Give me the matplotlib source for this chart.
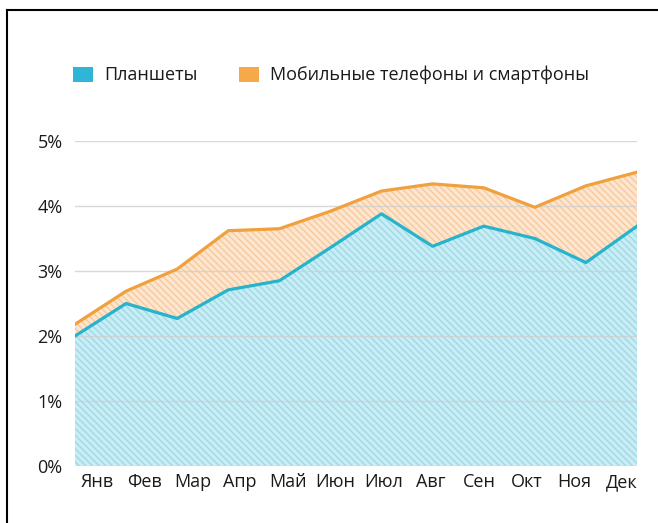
import numpy as np
import matplotlib
matplotlib.use("Agg")
import matplotlib.pyplot as plt
from matplotlib.patches import Patch
from matplotlib.lines import Line2D

# data (percent)
months = ["Янв", "Фев", "Мар", "Апр", "Май", "Июн", "Июл", "Авг", "Сен", "Окт", "Ноя", "Дек"]
tablets = [2.00, 2.50, 2.27, 2.71, 2.85, 3.36, 3.88, 3.38, 3.69, 3.50, 3.13, 3.69]
phones = [0.18, 0.19, 0.76, 0.91, 0.80, 0.56, 0.35, 0.96, 0.59, 0.48, 1.18, 0.83]
y_ticks = [0, 1, 2, 3, 4, 5]
y_labels = ["0%", "1%", "2%", "3%", "4%", "5%"]
legend_labels = ["Планшеты", "Мобильные телефоны и смартфоны"]

BLUE_LINE = "#27b3cb"
BLUE_FILL = "#c9edf5"
BLUE_HATCH = "#9fd8e6"
ORANGE_LINE = "#f0a03c"
ORANGE_FILL = "#fde6d0"
ORANGE_HATCH = "#f7c99c"

plt.rcParams["font.family"] = ["Open Sans", "DejaVu Sans"]
plt.rcParams["hatch.linewidth"] = 1.0

W, H = 658, 523
fig = plt.figure(figsize=(W / 100, H / 100), dpi=100)
ax = fig.add_axes([75 / W, (H - 466) / H, (637 - 75) / W, (466 - 141) / H])

x = np.arange(len(months))
t = np.array(tablets)
top = t + np.array(phones)

ax.fill_between(x, 0, t, facecolor=BLUE_FILL, edgecolor=BLUE_HATCH, hatch="\\\\\\\\\\", linewidth=0, zorder=1)
ax.fill_between(x, t, top, facecolor=ORANGE_FILL, edgecolor=ORANGE_HATCH, hatch="\\\\\\\\\\", linewidth=0, zorder=1)

for yv in y_ticks:
    ax.axhline(yv, color="#cfcfcf", linewidth=1.0, alpha=0.8, zorder=2)

ax.plot(x, top, color=ORANGE_LINE, linewidth=2.3, zorder=3, solid_joinstyle="round")
ax.plot(x, t, color=BLUE_LINE, linewidth=2.3, zorder=4, solid_joinstyle="round")

ax.set_xlim(0, 11)
ax.set_ylim(0, 5)
ax.set_yticks(y_ticks)
ax.set_yticklabels(y_labels)
ax.set_xticks(np.linspace(0.43, 10.71, 12))
ax.set_xticklabels(months)
ax.tick_params(length=0, labelsize=13, colors="#1a1a1a")
ax.tick_params(axis="y", pad=9)
ax.tick_params(axis="x", pad=5)
for s in ax.spines.values():
    s.set_visible(False)

handles = [Patch(facecolor="#2fb5d7", edgecolor="none"),
           Patch(facecolor="#f7a849", edgecolor="none")]
fig.legend(handles, legend_labels, ncol=2, loc="center left",
           bbox_to_anchor=(57 / W, 1 - 75 / H), frameon=False,
           fontsize=13, handlelength=1.1, handleheight=0.9,
           handletextpad=0.6, columnspacing=2.3, labelcolor="#1a1a1a")

# partial frame (top and left edges)
fig.add_artist(Line2D([7 / W, 1], [1 - 10 / H, 1 - 10 / H], color="black", linewidth=1.5))
fig.add_artist(Line2D([7 / W, 7 / W], [0, 1 - 10 / H], color="black", linewidth=1.5))

fig.savefig("out.png", dpi=100)
